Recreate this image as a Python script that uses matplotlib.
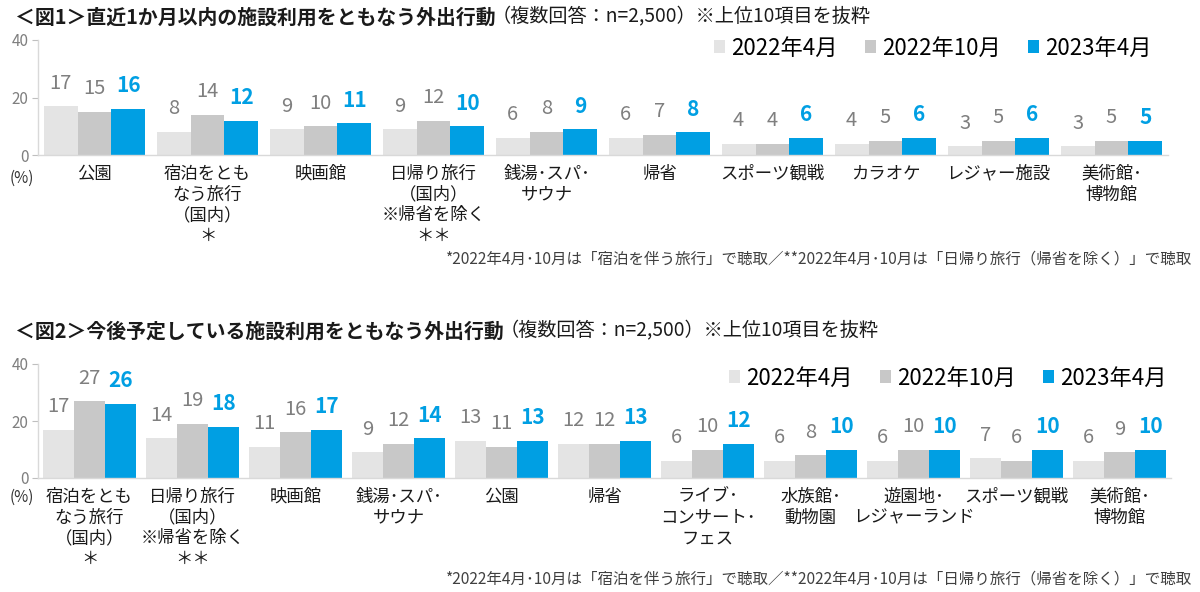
import matplotlib
matplotlib.use("Agg")
import matplotlib.pyplot as plt
import numpy as np
from matplotlib.patches import Patch

plt.rcParams['font.family'] = ['Noto Sans CJK JP', 'DejaVu Sans']

series_names = ["2022年4月", "2022年10月", "2023年4月"]
colors = ["#E4E4E4", "#C8C8C8", "#009FE3"]

cats1 = ["公園", "宿泊をとも\nなう旅行\n（国内）\n＊", "映画館", "日帰り旅行\n（国内）\n※帰省を除く\n＊＊",
         "銭湯･スパ･\nサウナ", "帰省", "スポーツ観戦", "カラオケ", "レジャー施設", "美術館･\n博物館"]
v1_2204 = [17, 8, 9, 9, 6, 6, 4, 4, 3, 3]
v1_2210 = [15, 14, 10, 12, 8, 7, 4, 5, 5, 5]
v1_2304 = [16, 12, 11, 10, 9, 8, 6, 6, 6, 5]

cats2 = ["宿泊をとも\nなう旅行\n（国内）\n＊", "日帰り旅行\n（国内）\n※帰省を除く\n＊＊", "映画館",
         "銭湯･スパ･\nサウナ", "公園", "帰省", "ライブ･\nコンサート･\nフェス", "水族館･\n動物園",
         "遊園地･\nレジャーランド", "スポーツ観戦", "美術館･\n博物館"]
v2_2204 = [17, 14, 11, 9, 13, 12, 6, 6, 6, 7, 6]
v2_2210 = [27, 19, 16, 12, 11, 12, 10, 8, 10, 6, 9]
v2_2304 = [26, 18, 17, 14, 13, 13, 12, 10, 10, 10, 10]

yticks = [0, 20, 40]

title1 = "＜図1＞直近1か月以内の施設利用をともなう外出行動"
title2 = "＜図2＞今後予定している施設利用をともなう外出行動"
subtitle = "（複数回答：n=2,500）※上位10項目を抜粋"
footnote = "*2022年4月･10月は「宿泊を伴う旅行」で聴取／**2022年4月･10月は「日帰り旅行（帰省を除く）」で聴取"

W, H = 1200, 592
fig = plt.figure(figsize=(12, 5.92), dpi=100)


def px_axes(left, right, top, bottom):
    return fig.add_axes([left / W, 1 - bottom / H, (right - left) / W, (bottom - top) / H])


def draw(ax, cats, vals):
    n = len(cats)
    x = np.arange(n)
    w = 0.3
    for i, (v, c) in enumerate(zip(vals, colors)):
        xs = x + (i - 1) * w
        ax.bar(xs, v, width=w, color=c, edgecolor='none', zorder=2)
        for xi, vi in zip(xs, v):
            if i == 2:
                ax.annotate(f"{vi:d}", (xi, vi), xytext=(0, 9), textcoords='offset points',
                            ha='center', va='bottom', fontsize=15, color=colors[2], fontweight='bold')
            else:
                ax.annotate(f"{vi:d}", (xi, vi), xytext=(0, 9), textcoords='offset points',
                            ha='center', va='bottom', fontsize=14.5, color='#7F7F7F')
    ax.set_xlim(-0.5, n - 0.5)
    ax.set_ylim(0, 40)
    ax.set_yticks(yticks)
    ax.set_yticklabels([str(t) for t in yticks], fontsize=11, color='#7F7F7F')
    ax.tick_params(axis='y', length=4, color='#BFBFBF', pad=3)
    ax.set_xticks(x)
    ax.set_xticklabels(cats, fontsize=12.5, color='#1A1A1A', linespacing=1.2, va='top')
    ax.tick_params(axis='x', length=0, pad=7)
    for s in ['top', 'right']:
        ax.spines[s].set_visible(False)
    for s in ['left', 'bottom']:
        ax.spines[s].set_color('#D9D9D9')
        ax.spines[s].set_linewidth(1.0)


ax1 = px_axes(38, 1168, 40, 155)
draw(ax1, cats1, [v1_2204, v1_2210, v1_2304])
ax2 = px_axes(38, 1171, 364, 478)
draw(ax2, cats2, [v2_2204, v2_2210, v2_2304])

for ty, ax, ttl, ly, lx in [(17, ax1, title1, 48, 1152), (331, ax2, title2, 378, 1167)]:
    t = fig.text(15 / W, 1 - ty / H, ttl, fontsize=14.3,
                 fontweight='bold', color='#1A1A1A', ha='left', va='center')
    ax.annotate(subtitle, xy=(1, 0.5), xycoords=t, xytext=(-3, 0), textcoords='offset points',
                ha='left', va='center', fontsize=13.8, color='#1A1A1A')
    handles = [Patch(facecolor=c, edgecolor='none') for c in colors]
    fig.legend(handles, series_names, loc='center right', bbox_to_anchor=(lx / W, 1 - ly / H),
               ncol=3, frameon=False, fontsize=16, handlelength=0.5, handleheight=0.5,
               handletextpad=0.3, columnspacing=1.2, borderpad=0, borderaxespad=0)

fig.text(22 / W, 1 - 178 / H, "(%)", fontsize=11, color='#333333', ha='center', va='center')
fig.text(22 / W, 1 - 497 / H, "(%)", fontsize=11, color='#333333', ha='center', va='center')
fig.text(1192 / W, 1 - 259 / H, footnote, fontsize=11.2, color='#404040', ha='right', va='center')
fig.text(1192 / W, 1 - 579 / H, footnote, fontsize=11.2, color='#404040', ha='right', va='center')

fig.savefig("out.png", dpi=100, facecolor='white')
